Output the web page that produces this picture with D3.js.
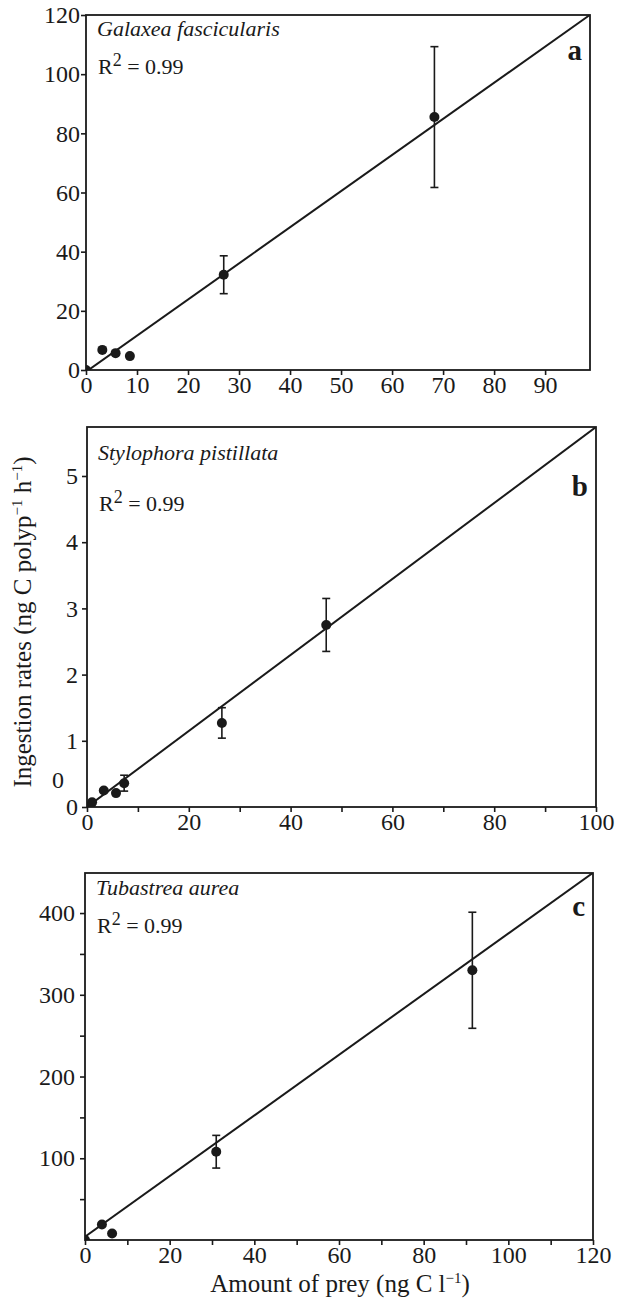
<!DOCTYPE html>
<html>
<head>
<meta charset="utf-8">
<script src="https://cdn.jsdelivr.net/npm/d3@7"></script>
<style>
  body { margin: 0; background: #fff; }
  svg text { font-family: "Liberation Serif", "Times New Roman", Times, serif; fill: #1a1a1a; }
</style>
</head>
<body>
<div class="chart"></div>
<script>
// panel a - Galaxea fascicularis
const aPrey = [0, 3.2, 5.8, 8.6, 27, 68.3];
const aRate = [0, 6.8, 5.7, 4.7, 32.2, 85.5];
const aSd = [0, 0, 0, 0, 6.4, 23.8];
const aXTicks = [0, 10, 20, 30, 40, 50, 60, 70, 80, 90];
const aYTicks = [0, 20, 40, 60, 80, 100, 120];

// panel b - Stylophora pistillata
const bPrey = [0, 1, 3.3, 5.7, 7.3, 26.5, 47];
const bRate = [0, 0.07, 0.25, 0.21, 0.36, 1.27, 2.75];
const bSd = [0, 0, 0, 0.02, 0.12, 0.23, 0.4];
const bXTicks = [0, 20, 40, 60, 80, 100];
const bXMinor = [10, 30, 50, 70, 90];
const bYTicks = [0, 1, 2, 3, 4, 5];

// panel c - Tubastrea aurea
const cPrey = [0, 4, 6.4, 31, 91.5];
const cRate = [0, 19, 8, 108, 330];
const cSd = [0, 0, 0, 20, 71];
const cXTicks = [0, 20, 40, 60, 80, 100, 120];
const cXMinor = [10, 30, 50, 70, 90, 110];
const cYTicks = [100, 200, 300, 400];
const cYMinor = [50, 150, 250, 350];

const species = ['Galaxea fascicularis', 'Stylophora pistillata', 'Tubastrea aurea'];
const letters = ['a', 'b', 'c'];
const fitIntercept = [-0.6, 0, 4];
const fitSlope = [1.221, 0.0574, 3.71];

const ink = '#1a1a1a';
const serif = '"Liberation Serif", "Times New Roman", Times, serif';

const svg = d3
  .select('.chart')
  .append('svg')
  .attr('width', 627)
  .attr('height', 1300)
  .attr('font-family', serif);

const panels = [
  {
    prey: aPrey, rate: aRate, sd: aSd,
    xDomain: [0, 98.8], yDomain: [0, 120],
    xTicks: aXTicks, xMinor: [], yTicks: aYTicks, yMinor: [],
    box: {left: 86, right: 590, top: 15, bottom: 370},
    yPad: 1,
    titleY: 36, r2Y: 74, letterY: 60,
  },
  {
    prey: bPrey, rate: bRate, sd: bSd,
    xDomain: [0, 100], yDomain: [0, 5.74],
    xTicks: bXTicks, xMinor: bXMinor, yTicks: bYTicks, yMinor: [],
    box: {left: 87, right: 596, top: 427, bottom: 807},
    yPad: 4,
    titleY: 460, r2Y: 511, letterY: 496,
  },
  {
    prey: cPrey, rate: cRate, sd: cSd,
    xDomain: [0, 120], yDomain: [0, 449],
    xTicks: cXTicks, xMinor: cXMinor, yTicks: cYTicks, yMinor: cYMinor,
    box: {left: 85, right: 593, top: 873, bottom: 1240},
    yPad: 5,
    titleY: 895, r2Y: 933, letterY: 916,
  },
];

panels.forEach((p, i) => {
  const b = p.box;
  const x = d3.scaleLinear().domain(p.xDomain).range([b.left, b.right]);
  const y = d3.scaleLinear().domain(p.yDomain).range([b.bottom, b.top]);

  const g = svg.append('g').attr('class', `panel panel-${letters[i]}`);

  g.append('clipPath')
    .attr('id', `clip-${i}`)
    .append('rect')
    .attr('x', b.left)
    .attr('y', b.top)
    .attr('width', b.right - b.left)
    .attr('height', b.bottom - b.top);

  // minor ticks (no labels)
  g.append('g')
    .attr('transform', `translate(0,${b.bottom})`)
    .call(d3.axisBottom(x).tickValues(p.xMinor).tickSize(5).tickFormat(''))
    .call(s => s.select('.domain').remove());
  g.append('g')
    .attr('transform', `translate(${b.left},0)`)
    .call(d3.axisLeft(y).tickValues(p.yMinor).tickSize(5).tickFormat(''))
    .call(s => s.select('.domain').remove());

  g.append('g')
    .attr('transform', `translate(0,${b.bottom})`)
    .call(d3.axisBottom(x).tickValues(p.xTicks).tickSize(5).tickPadding(1).tickFormat(d3.format('d')))
    .call(s => s.select('.domain').remove());
  g.append('g')
    .attr('transform', `translate(${b.left},0)`)
    .call(d3.axisLeft(y).tickValues(p.yTicks).tickSize(5).tickPadding(p.yPad).tickFormat(d3.format('d')))
    .call(s => s.select('.domain').remove());

  g.selectAll('.tick line').attr('stroke', ink).attr('stroke-width', 1.6);
  g.selectAll('.tick text')
    .attr('fill', ink)
    .style('font-family', serif)
    .style('font-size', '24px');

  // frame
  g.append('rect')
    .attr('x', b.left)
    .attr('y', b.top)
    .attr('width', b.right - b.left)
    .attr('height', b.bottom - b.top)
    .attr('fill', 'none')
    .attr('stroke', ink)
    .attr('stroke-width', 1.8);

  // regression line
  const fit = v => fitIntercept[i] + fitSlope[i] * v;
  g.append('line')
    .attr('clip-path', `url(#clip-${i})`)
    .attr('x1', x(p.xDomain[0]))
    .attr('y1', y(fit(p.xDomain[0])))
    .attr('x2', x(p.xDomain[1]))
    .attr('y2', y(fit(p.xDomain[1])))
    .attr('stroke', ink)
    .attr('stroke-width', 2);

  const pts = p.prey.map((v, k) => ({x: v, y: p.rate[k], sd: p.sd[k]}));
  const withErr = pts.filter(d => d.sd > 0);

  g.selectAll('.err')
    .data(withErr)
    .enter()
    .append('line')
    .attr('class', 'err')
    .attr('x1', d => x(d.x))
    .attr('x2', d => x(d.x))
    .attr('y1', d => y(d.y - d.sd))
    .attr('y2', d => y(d.y + d.sd))
    .attr('stroke', ink)
    .attr('stroke-width', 1.6);

  ['lo', 'hi'].forEach(side => {
    g.selectAll(`.cap-${side}`)
      .data(withErr)
      .enter()
      .append('line')
      .attr('class', `cap-${side}`)
      .attr('x1', d => x(d.x) - 4)
      .attr('x2', d => x(d.x) + 4)
      .attr('y1', d => y(side === 'lo' ? d.y - d.sd : d.y + d.sd))
      .attr('y2', d => y(side === 'lo' ? d.y - d.sd : d.y + d.sd))
      .attr('stroke', ink)
      .attr('stroke-width', 1.6);
  });

  g.selectAll('.dot')
    .data(pts)
    .enter()
    .append('circle')
    .attr('class', 'dot')
    .attr('clip-path', `url(#clip-${i})`)
    .attr('cx', d => x(d.x))
    .attr('cy', d => y(d.y))
    .attr('r', 5)
    .attr('fill', ink);

  // species name, R2 and panel letter
  g.append('text')
    .attr('x', b.left + 11)
    .attr('y', p.titleY)
    .style('font-size', '22px')
    .style('font-style', 'italic')
    .text(species[i]);

  const r2 = g.append('text')
    .attr('x', b.left + 12)
    .attr('y', p.r2Y)
    .style('font-size', '22px');
  r2.append('tspan').text('R');
  r2.append('tspan').attr('dy', -8).style('font-size', '18px').text('2');
  r2.append('tspan').attr('dy', 8).text(' = 0.99');

  g.append('text')
    .attr('x', b.right - 8)
    .attr('y', p.letterY)
    .attr('text-anchor', 'end')
    .style('font-size', '29px')
    .style('font-weight', 'bold')
    .text(letters[i]);
});

// stray "0" label left of panel b axis
const bY = d3.scaleLinear().domain([0, 5.74]).range([807, 427]);
svg.append('text')
  .attr('x', 64)
  .attr('y', bY(0.41))
  .attr('dy', '0.32em')
  .attr('text-anchor', 'end')
  .style('font-size', '24px')
  .text('0');

// axis titles
const yTitle = svg.append('text')
  .attr('transform', 'translate(31,622) rotate(-90)')
  .attr('text-anchor', 'middle')
  .style('font-size', '25px');
yTitle.append('tspan').text('Ingestion rates (ng C polyp');
yTitle.append('tspan').attr('dy', -9).style('font-size', '15px').text('\u22121');
yTitle.append('tspan').attr('dy', 9).text(' h');
yTitle.append('tspan').attr('dy', -9).style('font-size', '15px').text('\u22121');
yTitle.append('tspan').attr('dy', 9).text(')');

const xTitle = svg.append('text')
  .attr('x', 340)
  .attr('y', 1292)
  .attr('text-anchor', 'middle')
  .style('font-size', '25px');
xTitle.append('tspan').text('Amount of prey (ng C l');
xTitle.append('tspan').attr('dy', -9).style('font-size', '15px').text('\u22121');
xTitle.append('tspan').attr('dy', 9).text(')');
</script>
</body>
</html>
